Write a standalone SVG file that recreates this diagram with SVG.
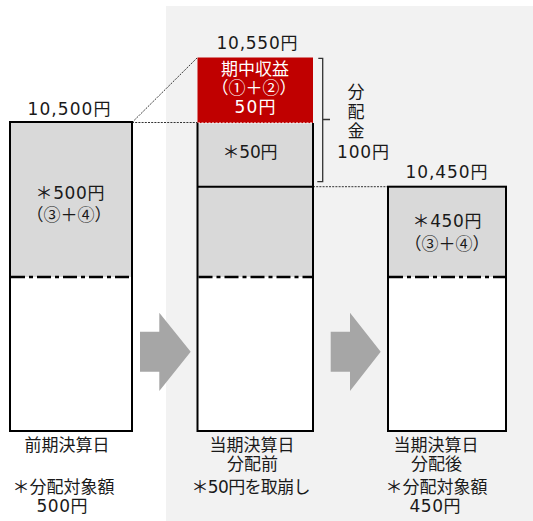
<svg xmlns="http://www.w3.org/2000/svg" width="533" height="521" viewBox="0 0 533 521">
<style>
text{font-family:"DejaVu Sans","Noto Sans CJK JP",sans-serif;font-size:17px;fill:#1a1a1a;text-anchor:middle}
text.c{font-family:"Noto Sans CJK JP",sans-serif;font-size:17px}
.w{fill:#ffffff}
.frame{fill:none;stroke:#000;stroke-width:2}
.gray{fill:#d9d9d9}
.white{fill:#ffffff}
.dd{stroke:#000;stroke-width:2.5;stroke-dasharray:14 4 4 4;fill:none}
.dot{stroke:#333;stroke-width:1;stroke-dasharray:2 1.2;fill:none}
.arrow{fill:#a6a6a6}
</style>
<rect x="166" y="6" width="367" height="515" fill="#f2f2f2"/>

<g id="connectors">
<line class="dot" x1="132" y1="122.5" x2="197.5" y2="57.5"/>
<line class="dot" x1="132" y1="122.5" x2="197.5" y2="122.5"/>
<line class="dot" x1="313" y1="186.7" x2="388" y2="186.7"/>
<path d="M318.3,58.3 H322.7 V181.7 H317.3 M322.7,119.5 H330" fill="none" stroke="#333" stroke-width="1.3"/>
<polygon class="arrow" points="140,331.7 159.3,331.7 159.3,312.7 190.7,351.7 159.3,391 159.3,371.7 140,371.7"/>
<polygon class="arrow" points="330.7,331.7 350,331.7 350,312.7 380.7,351.7 350,391 350,371.7 330.7,371.7"/>
</g>

<g id="prev-box">
<rect class="white" x="10" y="122" width="122" height="309"/>
<rect class="gray" x="10" y="122" width="122" height="155"/>
<line class="dd" x1="11" y1="277" x2="131" y2="277"/>
<rect class="frame" x="10" y="122" width="122" height="309"/>
<text x="69" y="115" textLength="83" lengthAdjust="spacing">10,500円</text>
<text x="70" y="199" textLength="69" lengthAdjust="spacing">＊500円</text>
<text class="c" x="69" y="221">（③＋④）</text>
<text x="67" y="450.7">前期決算日</text>
<text x="63.5" y="493">＊分配対象額</text>
<text x="62" y="511.7" textLength="51" lengthAdjust="spacing">500円</text>
</g>

<g id="before-box">
<rect x="197.5" y="57.5" width="115.5" height="65.5" fill="#c00000"/>
<rect class="gray" x="197.5" y="123" width="115.5" height="154"/>
<rect class="white" x="197.5" y="277" width="115.5" height="154"/>
<line x1="198" y1="123" x2="313" y2="123" stroke="#ffffff" stroke-width="1" stroke-dasharray="2 1.5"/>
<line x1="197.5" y1="186.7" x2="313" y2="186.7" stroke="#000" stroke-width="2"/>
<line class="dd" x1="198.5" y1="277" x2="312" y2="277"/>
<path class="frame" d="M197.5,123 V431 H313 V123"/>
<text x="257" y="49" textLength="81" lengthAdjust="spacing">10,550円</text>
<text class="w" x="255" y="74.5">期中収益</text>
<text class="w c" x="254" y="94">（①＋②）</text>
<text class="w" x="255" y="113" textLength="41" lengthAdjust="spacing">50円</text>
<text x="250" y="158" textLength="55" lengthAdjust="spacing">＊50円</text>
<text x="252" y="450.7">当期決算日</text>
<text x="252.5" y="470">分配前</text>
<text x="251" y="492.7" textLength="119" lengthAdjust="spacing">＊50円を取崩し</text>
</g>

<g id="distribution-label">
<text x="356" y="98">分</text>
<text x="356" y="117.5">配</text>
<text x="356" y="137">金</text>
<text x="363" y="158.3" textLength="52" lengthAdjust="spacing">100円</text>
</g>

<g id="after-box">
<rect class="white" x="388" y="186.7" width="118" height="244.3"/>
<rect class="gray" x="388" y="186.7" width="118" height="90.3"/>
<line class="dd" x1="389" y1="277" x2="505" y2="277"/>
<rect class="frame" x="388" y="186.7" width="118" height="244.3"/>
<text x="446.5" y="178" textLength="82" lengthAdjust="spacing">10,450円</text>
<text x="447" y="227" textLength="69" lengthAdjust="spacing">＊450円</text>
<text class="c" x="447" y="250">（③＋④）</text>
<text x="436" y="450.7">当期決算日</text>
<text x="436.5" y="470">分配後</text>
<text x="436.5" y="492.7">＊分配対象額</text>
<text x="435" y="511.7" textLength="51" lengthAdjust="spacing">450円</text>
</g>
</svg>
